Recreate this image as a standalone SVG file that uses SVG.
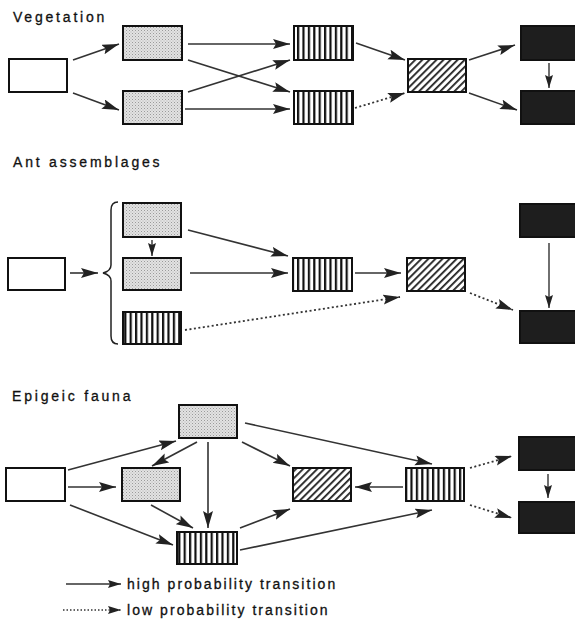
<svg xmlns="http://www.w3.org/2000/svg" width="575" height="625" viewBox="0 0 575 625">
<style>
.t{font-family:"Liberation Sans",Arial,sans-serif;font-size:14px;fill:#111;stroke:#111;stroke-width:0.3;letter-spacing:2.8px}
.lg{letter-spacing:2.05px}
.box{stroke:#111;stroke-width:2}
.w{fill:#fff}
.s{fill:url(#stip)}
.v{fill:url(#vstr)}
.h{fill:url(#hatch)}
.b{fill:#1e1e1e}
.c{fill:none;stroke:#333;stroke-width:1.6;marker-end:url(#ah)}
.d{fill:none;stroke:#333;stroke-width:1.8;stroke-dasharray:2 2.5;marker-end:url(#ah)}
.cs{fill:none;stroke:#333;stroke-width:1.4;marker-end:url(#as)}
.ds{fill:none;stroke:#333;stroke-width:1.4;stroke-dasharray:1.5 2;marker-end:url(#as)}
</style>
<defs>
<pattern id="stip" width="3" height="3" patternUnits="userSpaceOnUse">
<rect width="3" height="3" fill="#e2e2e2"/>
<rect x="0" y="0" width="1" height="1" fill="#9a9a9a"/>
<rect x="1.5" y="1.5" width="1" height="1" fill="#b5b5b5"/>
</pattern>
<pattern id="vstr" width="5.4" height="10" patternUnits="userSpaceOnUse">
<rect width="5.4" height="10" fill="#fff"/>
<rect x="0" y="0" width="2.2" height="10" fill="#111"/>
</pattern>
<pattern id="hatch" width="5" height="5" patternUnits="userSpaceOnUse" patternTransform="rotate(45)">
<rect width="5" height="5" fill="#fff"/>
<rect x="0" y="0" width="1.8" height="5" fill="#222"/>
</pattern>
<marker id="ah" markerUnits="userSpaceOnUse" markerWidth="18" markerHeight="11" refX="17" refY="5" orient="auto">
<path d="M0,0 L17,5 L0,10 L3,5 z" fill="#222"/>
</marker>
<marker id="as" markerUnits="userSpaceOnUse" markerWidth="14" markerHeight="9" refX="13" refY="4" orient="auto">
<path d="M0,0 L13,4 L0,8 L2,4 z" fill="#222"/>
</marker>
</defs>
<rect width="575" height="625" fill="#fff"/>

<g id="titles">
<text class="t" x="13" y="22">Vegetation</text>
<text class="t" x="13" y="167">Ant assemblages</text>
<text class="t" x="12" y="401">Epigeic fauna</text>
</g>

<!-- Vegetation -->
<g id="veg-A"><rect class="box w" x="9" y="59" width="58" height="33"/></g>
<g id="veg-B1"><rect class="box s" x="123" y="26" width="59" height="34"/></g>
<g id="veg-B2"><rect class="box s" x="123" y="91" width="59" height="33"/></g>
<g id="veg-C1"><rect class="box v" x="294" y="26" width="59" height="34"/></g>
<g id="veg-C2"><rect class="box v" x="294" y="91" width="59" height="33"/></g>
<g id="veg-D"><rect class="box h" x="408" y="59" width="58" height="33"/></g>
<g id="veg-E1"><rect class="box b" x="521" y="26" width="60" height="34"/></g>
<g id="veg-E2"><rect class="box b" x="521" y="91" width="60" height="33"/></g>

<!-- Ant assemblages -->
<g id="ant-A"><rect class="box w" x="8" y="258" width="57" height="32"/></g>
<g id="ant-brace"><path d="M118,202 Q111,202 111,210 L111,265 Q111,271 103,273 Q111,275 111,281 L111,336 Q111,344 118,344" fill="none" stroke="#222" stroke-width="1.5"/></g>
<g id="ant-S1"><rect class="box s" x="123" y="203" width="58" height="34"/></g>
<g id="ant-S2"><rect class="box s" x="123" y="258" width="58" height="32"/></g>
<g id="ant-S3"><rect class="box v" x="123" y="312" width="58" height="32"/></g>
<g id="ant-C"><rect class="box v" x="293" y="258" width="59" height="33"/></g>
<g id="ant-D"><rect class="box h" x="407" y="258" width="58" height="33"/></g>
<g id="ant-E1"><rect class="box b" x="520" y="204" width="60" height="33"/></g>
<g id="ant-E2"><rect class="box b" x="520" y="311" width="60" height="32"/></g>

<!-- Epigeic fauna -->
<g id="epi-A"><rect class="box w" x="6" y="468" width="59" height="33"/></g>
<g id="epi-T"><rect class="box s" x="179" y="405" width="58" height="33"/></g>
<g id="epi-M"><rect class="box s" x="122" y="468" width="58" height="33"/></g>
<g id="epi-B"><rect class="box v" x="177" y="532" width="60" height="32"/></g>
<g id="epi-H"><rect class="box h" x="293" y="468" width="58" height="33"/></g>
<g id="epi-R"><rect class="box v" x="406" y="468" width="58" height="33"/></g>
<g id="epi-E1"><rect class="box b" x="519" y="437" width="60" height="33"/></g>
<g id="epi-E2"><rect class="box b" x="519" y="502" width="60" height="31"/></g>

<g id="connectors">
<!-- vegetation -->
<path class="c" d="M73,60 L119,44"/>
<path class="c" d="M73,93 L119,110"/>
<path class="c" d="M188,44 L290,44"/>
<path class="c" d="M188,60 L290,92"/>
<path class="c" d="M188,92 L290,60"/>
<path class="c" d="M185,109 L290,109"/>
<path class="c" d="M356,43 L405,60"/>
<path class="d" d="M355,108 L405,93"/>
<path class="c" d="M469,60 L515,45"/>
<path class="c" d="M469,93 L517,110"/>
<path class="cs" d="M549,63 L549,88"/>
<!-- ants -->
<path class="c" d="M70,273 L98,273"/>
<path class="cs" d="M152,240 L152,256"/>
<path class="c" d="M188,230 L288,256"/>
<path class="c" d="M190,273 L288,273"/>
<path class="d" d="M185,330 L400,297"/>
<path class="c" d="M355,273 L401,273"/>
<path class="d" d="M470,293 L513,310"/>
<path class="cs" d="M549,243 L549,308"/>
<!-- epigeic -->
<path class="c" d="M68,470 L176,441"/>
<path class="c" d="M68,487 L116,487"/>
<path class="c" d="M70,505 L173,545"/>
<path class="c" d="M197,442 L152,466"/>
<path class="c" d="M208,442 L208,528"/>
<path class="c" d="M242,442 L290,466"/>
<path class="c" d="M245,423 L432,464"/>
<path class="c" d="M151,505 L193,528"/>
<path class="c" d="M240,528 L290,509"/>
<path class="c" d="M240,550 L432,510"/>
<path class="c" d="M403,487 L355,487"/>
<path class="d" d="M470,468 L512,456"/>
<path class="d" d="M470,505 L512,518"/>
<path class="cs" d="M548,474 L548,498"/>
</g>

<g id="legend">
<path class="cs" d="M66,584 L121,584"/>
<text class="t lg" x="127" y="589">high probability transition</text>
<path class="ds" d="M63,610 L121,610"/>
<text class="t lg" x="127" y="615">low probability transition</text>
</g>
</svg>
